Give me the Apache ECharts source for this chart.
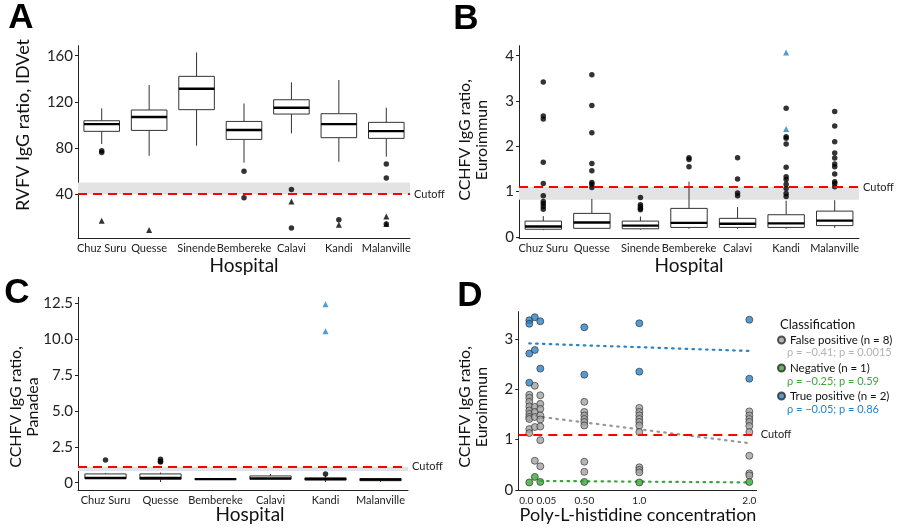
<!DOCTYPE html>
<html><head><meta charset="utf-8">
<script src="https://cdn.jsdelivr.net/npm/echarts@6.0.0/dist/echarts.min.js"></script>
<style>html,body{margin:0;padding:0;background:#fff}#c{width:900px;height:531px}</style>
</head><body><div id="c"></div>
<script>
// ---------- DATA ----------
const hospitalsAB = ['Chuz Suru','Quesse','Sinende','Bembereke','Calavi','Kandi','Malanville'];
const hospitalsC = ['Chuz Suru','Quesse','Bembereke','Calavi','Kandi','Malanville'];
// [lower whisker, Q1, median, Q3, upper whisker]
const boxA = [
  [83.4, 94.4, 100.7, 103.6, 114.3],
  [73.2, 95.2, 106.8, 112.9, 134.6],
  [81.9, 113.2, 131.4, 142.1, 162.9],
  [67.2, 87.4, 95.5, 103.0, 118.6],
  [92.6, 109.4, 114.9, 121.8, 136.9],
  [68.0, 88.9, 100.7, 109.7, 138.9],
  [72.4, 88.3, 94.6, 102.2, 114.9]
];
const outCircleA = [[0,77.6],[0,76.1],[3,59.7],[3,36.8],[4,44.0],[4,10.5],[5,17.7],[6,66.0],[6,53.9],[6,13.9]];
const outTriA = [[0,16.9],[1,8.8],[4,33.6],[5,13.4],[6,20.6],[6,13.9]];
const cutoffA = 40, bandA = [40, 50];

const boxB = [
  [0.15, 0.17, 0.23, 0.35, 0.46],
  [0.18, 0.19, 0.32, 0.52, 0.84],
  [0.16, 0.18, 0.25, 0.35, 0.45],
  [0.18, 0.21, 0.31, 0.63, 1.22],
  [0.18, 0.21, 0.29, 0.41, 0.66],
  [0.18, 0.21, 0.30, 0.49, 0.80],
  [0.20, 0.25, 0.36, 0.57, 0.81]
];
const outCircleB = [
  [0.61,0.67,0.73,0.78,0.91,1.18,1.65,2.60,2.67,3.42],
  [1.09,1.16,1.20,1.46,1.62,2.30,2.90,3.58],
  [0.60,0.63,0.67,0.71,0.87],
  [1.55,1.71,1.75],
  [0.91,0.97,1.28,1.75],
  [0.89,0.96,1.07,1.16,1.27,1.33,1.54,2.05,2.18,2.21,2.84],
  [1.11,1.18,1.22,1.39,1.55,1.61,1.74,1.85,2.10,2.45,2.77]
];
const outTriB = [[5,4.07],[5,2.38]];
const cutoffB = 1.1, bandB = [0.82, 1.1];

const boxC = [
  [0.28, 0.29, 0.33, 0.61, 0.66],
  [0.05, 0.24, 0.33, 0.61, 0.70],
  [0.21, 0.22, 0.25, 0.28, 0.29],
  [0.22, 0.24, 0.30, 0.47, 0.61],
  [0.05, 0.19, 0.26, 0.33, 0.51],
  [0.05, 0.14, 0.22, 0.28, 0.33]
];
const outCircleC = [[0,1.58],[1,1.63],[1,1.50],[1,1.44],[4,0.61]];
const outTriC = [[4,12.43],[4,10.55]];
const cutoffC = 1.1, bandC = [0.82, 1.1];

const concD = [0, 0.05, 0.1, 0.5, 1, 2];
const trueposD = [
  [3.37, 3.30, 2.71, 2.13],
  [3.43, 2.78],
  [3.35, 2.41],
  [3.23, 2.29],
  [3.31, 2.35],
  [3.38, 2.21]
];
const falseposD = [
  [1.89, 1.83, 1.75, 1.66, 1.58, 1.51, 1.45, 1.41, 1.21, 1.13],
  [2.07, 1.65, 1.55, 1.45, 1.25, 0.58],
  [1.88, 1.71, 1.61, 1.48, 1.40, 1.26, 0.99, 0.47],
  [1.75, 1.55, 1.48, 1.41, 1.35, 1.28, 0.56, 0.36],
  [1.63, 1.55, 1.48, 1.41, 1.35, 1.28, 1.15, 0.45, 0.40, 0.35],
  [1.56, 1.48, 1.41, 1.35, 1.27, 1.15, 0.68, 0.33, 0.29]
];
const negativeD = [[0.15],[0.26],[0.16],[0.16],[0.15],[0.16]];
const trendTrue = [[0, 2.91], [2, 2.76]];
const trendFalse = [[0, 1.48], [2, 0.93]];
const trendNeg = [[0.1, 0.18], [2, 0.15]];
const cutoffD = 1.1;
const xTickPosD = [0, 0.5, 1, 2];
const xTickLabD = ['0.0', '0.50', '1.0', '2.0'];
const xTickPosD2 = [0.155];
const xTickLabD2 = ['0.05'];

const yTicksA = [40, 80, 120, 160];
const yTicksB = [0, 1, 2, 3, 4];
const yTicksC = [0, 2.5, 5, 7.5, 10, 12.5];
const yTicksD = [0, 1, 2, 3];

const namesD = ['False positive (n = 8)', 'Negative (n = 1)', 'True positive (n = 2)'];
const statsD = ['\u03c1 = \u22120.41; p = 0.0015', '\u03c1 = \u22120.25; p = 0.59', '\u03c1 = \u22120.05; p = 0.86'];

// ---------- STYLE ----------
const FONT = 'Lato, "Open Sans", sans-serif';
const AX = '#222';
const RED = '#ff0000';
const BAND = '#e3e3e3';
const BLUE = '#2b82c6', GRAY = '#a3a3a3', GREEN = '#3aa63a';

function boxData(box) { return box.map((b, i) => [i].concat(b)); }
function flatOut(arr) { const r = []; arr.forEach((vals, i) => vals.forEach(v => r.push([i, v]))); return r; }
function pairs(xs, ys) { const r = []; ys.forEach((vals, i) => vals.forEach(v => r.push([xs[i], v]))); return r; }

function boxRender(params, api) {
  const c = api.value(0);
  const lo = api.coord([c, api.value(1)]);
  const q1 = api.coord([c, api.value(2)]);
  const md = api.coord([c, api.value(3)]);
  const q3 = api.coord([c, api.value(4)]);
  const hi = api.coord([c, api.value(5)]);
  const bw = api.size([1, 0])[0] * 0.75;
  const x = lo[0];
  const ls = { stroke: '#333', lineWidth: 1 };
  return { type: 'group', children: [
    { type: 'line', shape: { x1: x, y1: hi[1], x2: x, y2: q3[1] }, style: ls },
    { type: 'line', shape: { x1: x, y1: q1[1], x2: x, y2: lo[1] }, style: ls },
    { type: 'rect', shape: { x: x - bw / 2, y: q3[1], width: bw, height: q1[1] - q3[1] }, style: { fill: '#fff', stroke: '#333', lineWidth: 1 } },
    { type: 'line', shape: { x1: x - bw / 2, y1: md[1], x2: x + bw / 2, y2: md[1] }, style: { stroke: '#000', lineWidth: 2.4 } }
  ]};
}

function catAxis(idx, cats) {
  return { type: 'category', gridIndex: idx, data: cats,
    axisLine: { onZero: false, lineStyle: { color: AX, width: 1 } },
    axisTick: { show: false },
    axisLabel: { color: AX, fontSize: 11, fontFamily: FONT, margin: 5, interval: 0, hideOverlap: false } };
}
function valAxis(idx, min, max, ticks, fmt) {
  return { type: 'value', gridIndex: idx, min: min, max: max,
    splitLine: { show: false },
    axisLine: { show: true, onZero: false, lineStyle: { color: AX, width: 1 } },
    axisTick: { show: true, length: 3, customValues: ticks, lineStyle: { color: AX } },
    axisLabel: { color: AX, fontSize: 15, fontFamily: FONT, margin: 5, customValues: ticks, hideOverlap: false, formatter: fmt || (v => String(v)) } };
}
function markers(cut, band) {
  const o = {
    markLine: { silent: true, symbol: 'none', animation: false,
      data: [{ yAxis: cut }],
      lineStyle: { color: RED, type: [9, 6], width: 2 },
      label: { show: true, position: 'end', formatter: 'Cutoff', color: AX, fontSize: 11, fontFamily: FONT, distance: 4 } }
  };
  if (band) o.markArea = { silent: true, animation: false, itemStyle: { color: BAND }, data: [[{ yAxis: band[0] }, { yAxis: band[1] }]] };
  return o;
}
function boxPanel(idx, box, circles, tris, cut, band) {
  const s = [];
  s.push(Object.assign({ type: 'scatter', xAxisIndex: idx, yAxisIndex: idx, data: [], z: 1, silent: true }, markers(cut, band)));
  s.push({ type: 'custom', xAxisIndex: idx, yAxisIndex: idx, data: boxData(box), renderItem: boxRender, z: 3, silent: true, encode: { x: 0, y: [1,2,3,4,5] } });
  s.push({ type: 'scatter', xAxisIndex: idx, yAxisIndex: idx, data: circles, symbol: 'circle', symbolSize: 5.5, itemStyle: { color: '#000' }, z: 4, silent: true });
  s.push({ type: 'scatter', xAxisIndex: idx, yAxisIndex: idx, data: tris.data, symbol: 'triangle', symbolSize: 6, itemStyle: { color: tris.color }, z: 4, silent: true });
  return s;
}

const series = [].concat(
  boxPanel(0, boxA, outCircleA, { data: outTriA, color: '#000' }, cutoffA, bandA),
  boxPanel(1, boxB, flatOut(outCircleB), { data: outTriB, color: BLUE }, cutoffB, bandB),
  boxPanel(2, boxC, outCircleC, { data: outTriC, color: BLUE }, cutoffC, bandC)
);
// Panel D
series.push(Object.assign({ type: 'scatter', xAxisIndex: 3, yAxisIndex: 3, data: [], z: 1, silent: true }, markers(cutoffD, null)));
const trendStyle = c => ({ color: c, type: [1.6, 5.2], width: 2.2, cap: 'round' });
series.push({ type: 'line', xAxisIndex: 3, yAxisIndex: 3, data: trendTrue, showSymbol: false, lineStyle: trendStyle(BLUE), z: 2, silent: true });
series.push({ type: 'line', xAxisIndex: 3, yAxisIndex: 3, data: trendFalse, showSymbol: false, lineStyle: trendStyle('#999'), z: 2, silent: true });
series.push({ type: 'line', xAxisIndex: 3, yAxisIndex: 3, data: trendNeg, showSymbol: false, lineStyle: trendStyle(GREEN), z: 2, silent: true });
const ptStyle = c => ({ color: c, borderColor: '#2a2a2a', borderWidth: 0.8 });
series.push({ name: namesD[0], type: 'scatter', xAxisIndex: 3, yAxisIndex: 3, data: pairs(concD, falseposD), symbolSize: 7, itemStyle: ptStyle(GRAY), z: 4, silent: true });
series.push({ name: namesD[1], type: 'scatter', xAxisIndex: 3, yAxisIndex: 3, data: pairs(concD, negativeD), symbolSize: 7, itemStyle: ptStyle(GREEN), z: 4, silent: true });
series.push({ name: namesD[2], type: 'scatter', xAxisIndex: 3, yAxisIndex: 3, data: pairs(concD, trueposD), symbolSize: 7, itemStyle: ptStyle(BLUE), z: 4, silent: true });

const grids = [
  { left: 78, top: 45.7, width: 332, height: 192.6 },
  { left: 519, top: 45.7, width: 340, height: 192.6 },
  { left: 78, top: 297.3, width: 330, height: 192.7 },
  { left: 518.3, top: 311.7, width: 238.4, height: 178.3 }
];

function concAxis(pos, labs, showLine) {
  return { type: 'value', gridIndex: 3, min: -0.1, max: 2.067, splitLine: { show: false }, position: 'bottom',
    axisLine: { show: showLine, onZero: false, lineStyle: { color: AX } }, axisTick: { show: false, customValues: pos },
    axisLabel: { color: AX, fontSize: 10, fontFamily: FONT, margin: 6, customValues: pos, hideOverlap: false,
      formatter: v => { const i = pos.indexOf(v); return i < 0 ? '' : (v === 0 ? '{l|' + labs[i] + '}' : labs[i]); },
      rich: { l: { fontSize: 10, fontFamily: FONT, color: AX, padding: [0, 6, 0, 0] } } } };
}
const xAxes = [
  catAxis(0, hospitalsAB),
  catAxis(1, hospitalsAB),
  catAxis(2, hospitalsC),
  concAxis(xTickPosD, xTickLabD, true),
  concAxis(xTickPosD2, xTickLabD2, false)
];
const yAxes = [
  valAxis(0, 1.6, 168.7, yTicksA),
  valAxis(1, -0.03, 4.22, yTicksB),
  valAxis(2, -0.51, 12.92, yTicksC, v => v === 0 ? '0' : v.toFixed(1)),
  valAxis(3, 0, 3.54, yTicksD)
];

function txt(x, y, text, size, opts) {
  opts = opts || {};
  return { type: 'text', x: x, y: y, rotation: opts.rot || 0, silent: true,
    style: { text: text, font: (opts.weight || 'normal') + ' ' + size + 'px ' + (opts.family || FONT),
      fill: opts.fill || '#111', textAlign: opts.align || 'center', textVerticalAlign: 'middle',
      lineHeight: opts.lh || size } };
}
const R = Math.PI / 2;
const LETTER = '"Liberation Sans", Arial';
const graphics = [
  txt(21, 18, 'A', 35, { weight: 'bold', family: LETTER, fill: '#000' }),
  txt(466, 19, 'B', 35, { weight: 'bold', family: LETTER, fill: '#000' }),
  txt(17, 293, 'C', 35, { weight: 'bold', family: LETTER, fill: '#000' }),
  txt(470, 296, 'D', 35, { weight: 'bold', family: LETTER, fill: '#000' }),
  txt(23, 125, 'RVFV IgG ratio, IDVet', 18, { rot: R }),
  txt(473, 140, 'CCHFV IgG ratio,\nEuroimmun', 16, { rot: R, lh: 17 }),
  txt(24, 407, 'CCHFV IgG ratio,\nPanadea', 16, { rot: R, lh: 17 }),
  txt(473, 407, 'CCHFV IgG ratio,\nEuroimmun', 16, { rot: R, lh: 17 }),
  txt(244, 266, 'Hospital', 19),
  txt(689, 266, 'Hospital', 19),
  txt(250, 515, 'Hospital', 19),
  txt(638, 515, 'Poly-L-histidine concentration', 18),
  txt(780, 325, 'Classification', 13, { align: 'left' }),
  txt(787, 352, statsD[0], 11, { align: 'left', fill: '#b3b3b3' }),
  txt(787, 381, statsD[1], 11, { align: 'left', fill: GREEN }),
  txt(787, 409, statsD[2], 11, { align: 'left', fill: BLUE })
];

const chart = echarts.init(document.getElementById('c'), null, { renderer: 'canvas' });
chart.setOption({
  animation: false,
  backgroundColor: '#fff',
  grid: grids,
  xAxis: xAxes,
  yAxis: yAxes,
  legend: { data: namesD, orient: 'vertical', left: 777, top: 334, padding: 0, itemGap: 16, itemWidth: 7, itemHeight: 7, icon: 'circle',
    selectedMode: false, textStyle: { color: '#111', fontSize: 11.5, fontFamily: FONT } },
  graphic: graphics,
  series: series
});
</script></body></html>
